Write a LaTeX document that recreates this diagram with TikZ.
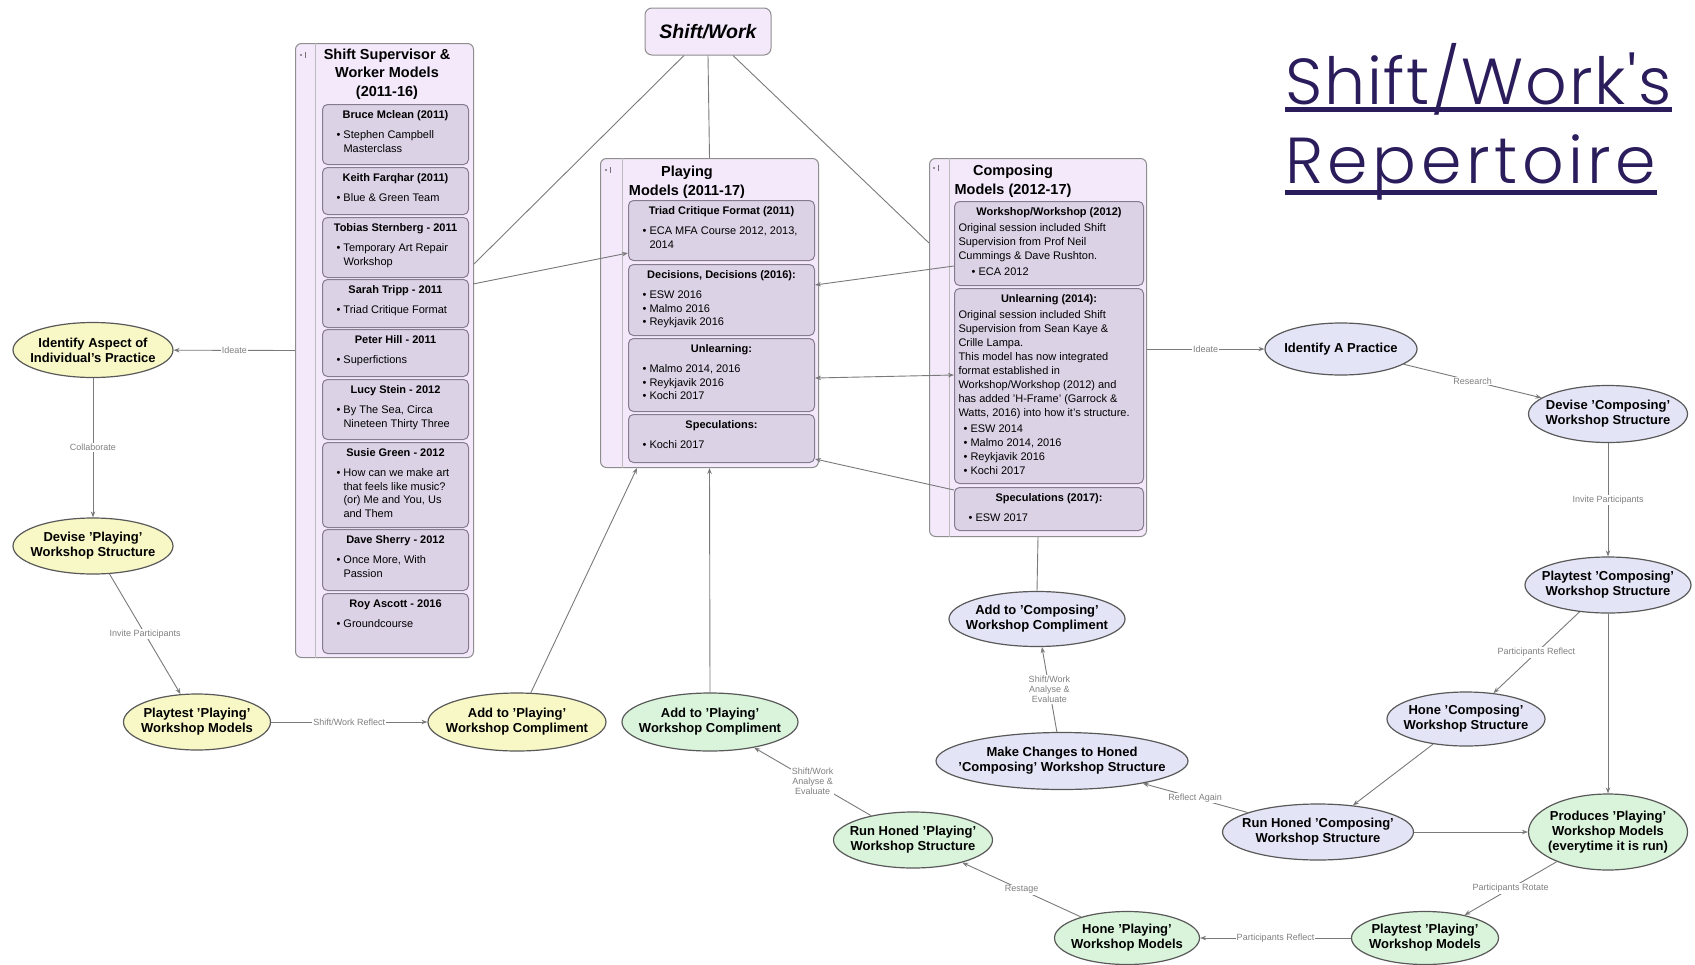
\documentclass[tikz,border=0pt]{standalone}
\usepackage{fontspec}
\setmainfont{Liberation Sans}
\IfFontExistsTF{Poppins Light}{%
\newfontfamily\ttlfonta{Poppins Light}[LetterSpace=2.7]
\newfontfamily\ttlfontb{Poppins Light}[LetterSpace=7]}{%
\newfontfamily\ttlfonta{Poppins}[LetterSpace=2.7]
\newfontfamily\ttlfontb{Poppins}[LetterSpace=7]}
\usetikzlibrary{shapes.geometric,arrows.meta,calc}
\definecolor{contfill}{HTML}{F3E9FB}
\definecolor{contdraw}{HTML}{8E8E8E}
\definecolor{boxfill}{HTML}{DCD2E6}
\definecolor{boxdraw}{HTML}{857C90}
\definecolor{yel}{HTML}{F8F7C6}
\definecolor{grn}{HTML}{DAF4DC}
\definecolor{lav}{HTML}{E4E4F7}
\definecolor{edgec}{HTML}{7A7A7A}
\definecolor{lblc}{HTML}{808080}
\definecolor{ttlc}{HTML}{2B1C5C}
\newcommand\bxt[1]{{\centering\rule{0pt}{14pt}\textbf{#1}\par}\vspace{6.5pt}}
\newcommand\cxt[1]{{\centering\rule{0pt}{14pt}\textbf{#1}\par}\vspace{1.5pt}}
\newcommand\bxi[2][10]{\par\hangindent=\dimexpr#1pt+7pt\relax\hangafter=1\noindent\hspace*{#1pt}\makebox[7pt][l]{\textbullet}#2\par}
\newcommand\ibox[6]{\node[ibx,anchor=north west,minimum width=#4,minimum height=#5] (#1) at (#2,#3) {\parbox[c][#5pt][t]{\dimexpr#4pt-8pt\relax}{\raggedright\fontsize{11}{13.5}\selectfont#6}};}
\begin{document}
\begin{tikzpicture}[x=1pt,y=-1pt,
  cont/.style={draw=contdraw,fill=contfill,line width=1pt,rounded corners=6pt,inner sep=0pt,anchor=north west},
  stripe/.style={draw=contdraw!60,line width=0.8pt},
  ibx/.style={draw=boxdraw,fill=boxfill,line width=1pt,rounded corners=5pt,inner xsep=4pt,inner ysep=0pt},
  ctitle/.style={font=\bfseries\fontsize{14.5}{18.5}\selectfont,align=center,inner sep=0pt},
  ell/.style={ellipse,draw=black!65,line width=1.2pt,inner xsep=-45pt,inner ysep=-6pt,align=center,font=\bfseries\fontsize{13}{15}\selectfont},
  ey/.style={ell,fill=yel},
  eg/.style={ell,fill=grn},
  el/.style={ell,fill=lav},
  ed/.style={draw=edgec,line width=0.9pt},
  ar/.style={ed,-{Stealth[length=6pt,width=4.5pt]}},
  lbl/.style={font=\fontsize{9}{10}\selectfont,text=lblc,fill=white,inner sep=1pt,align=center},
  icon/.style={draw=black!55,line width=0.6pt}
]
\fill[white] (0,0) rectangle (1695,964);
\useasboundingbox (0,0) rectangle (1695,964);

% top node
\node[draw=contdraw,fill=contfill,line width=1pt,rounded corners=7pt,minimum width=126,minimum height=47,inner sep=0pt,font=\bfseries\itshape\fontsize{19.5}{22}\selectfont] (sw) at (708,31.5) {Shift/Work};

% containers
\node[cont,minimum width=178,minimum height=614] (ssm) at (295,43) {};
\node[cont,minimum width=218,minimum height=309] (pm) at (600,158) {};
\node[cont,minimum width=217,minimum height=378] (cm) at (929,158) {};
\draw[stripe] ([xshift=20pt]ssm.north west) -- ([xshift=20pt]ssm.south west);
\draw[stripe] ([xshift=22pt]pm.north west) -- ([xshift=22pt]pm.south west);
\draw[stripe] ([xshift=20pt]cm.north west) -- ([xshift=20pt]cm.south west);
\fill[black!55] (301,55) circle (1.1pt); \draw[icon] (305.5,52) -- (305.5,58);
\fill[black!55] (606,170) circle (1.1pt); \draw[icon] (610.5,167) -- (610.5,173);
\fill[black!55] (934,168) circle (1.1pt); \draw[icon] (938.5,165) -- (938.5,171);
\node[ctitle] (ssmt) at (387,74) {Shift Supervisor \&\\Worker Models\\(2011-16)};
\node[ctitle] (pmt) at (687,182) {Playing\\Models (2011-17)};
\node[ctitle] (cmt) at (1013,181) {Composing\\Models (2012-17)};

% Shift Supervisor boxes
\ibox{bm}{322}{104}{146}{60}{\bxt{Bruce Mclean (2011)}\bxi{Stephen Campbell\newline Masterclass}}
\ibox{kf}{322}{167}{146}{47}{\bxt{Keith Farqhar (2011)}\bxi{Blue \& Green Team}}
\ibox{ts}{322}{217}{146}{60}{\bxt{Tobias Sternberg - 2011}\bxi{Temporary Art Repair\newline Workshop}}
\ibox{st}{322}{279}{146}{48}{\bxt{Sarah Tripp - 2011}\bxi{Triad Critique Format}}
\ibox{ph}{322}{329}{146}{47}{\bxt{Peter Hill - 2011}\bxi{Superfictions}}
\ibox{ls}{322}{379}{146}{60}{\bxt{Lucy Stein - 2012}\bxi{By The Sea, Circa\newline Nineteen Thirty Three}}
\ibox{sg}{322}{442}{146}{85}{\bxt{Susie Green - 2012}\bxi{How can we make art\newline that feels like music?\newline (or) Me and You, Us\newline and Them}}
\ibox{ds}{322}{529}{146}{61}{\bxt{Dave Sherry - 2012}\bxi{Once More, With\newline Passion}}
\ibox{ra}{322}{593}{146}{60}{\bxt{Roy Ascott - 2016}\bxi{Groundcourse}}

% Playing boxes
\ibox{tc}{628}{200}{186}{60}{\bxt{Triad Critique Format (2011)}\bxi{ECA MFA Course 2012, 2013,\newline 2014}}
\ibox{dd}{628}{264}{186}{71}{\bxt{Decisions, Decisions (2016):}\bxi{ESW 2016}\bxi{Malmo 2016}\bxi{Reykjavik 2016}}
\ibox{pu}{628}{338}{186}{73}{\bxt{Unlearning:}\bxi{Malmo 2014, 2016}\bxi{Reykjavik 2016}\bxi{Kochi 2017}}
\ibox{ps}{628}{414}{186}{48}{\bxt{Speculations:}\bxi{Kochi 2017}}

% Composing boxes
\ibox{ww}{954}{201}{189}{84}{\fontsize{11}{14}\selectfont\cxt{Workshop/Workshop (2012)}\noindent Original session included Shift\newline Supervision from Prof Neil\newline Cummings \& Dave Rushton.\par\vspace{2.5pt}\bxi[13]{ECA 2012}}
\ibox{cu}{954}{288}{189}{195}{\fontsize{11}{14}\selectfont\cxt{Unlearning (2014):}\noindent Original session included Shift\newline Supervision from Sean Kaye \&\newline Crille Lampa.\newline This model has now integrated\newline format established in\newline Workshop/Workshop (2012) and\newline has added 'H-Frame' (Garrock \&\newline Watts, 2016) into how it's structure.\par\vspace{2pt}\bxi[5]{ESW 2014}\bxi[5]{Malmo 2014, 2016}\bxi[5]{Reykjavik 2016}\bxi[5]{Kochi 2017}}
\ibox{cs}{954}{487}{189}{43}{\bxt{Speculations (2017):}\bxi[10]{ESW 2017}}

% ellipses
\node[ey,minimum width=160,minimum height=55] (ia) at (93,350) {Identify Aspect of\\Individual's Practice};
\node[ey,minimum width=160,minimum height=56] (dp) at (93,546) {Devise 'Playing'\\Workshop Structure};
\node[ey,minimum width=147,minimum height=56] (ptp) at (197,722) {Playtest 'Playing'\\Workshop Models};
\node[ey,minimum width=178,minimum height=58] (apy) at (517,722) {Add to 'Playing'\\Workshop Compliment};
\node[eg,minimum width=176,minimum height=58] (apg) at (710,722) {Add to 'Playing'\\Workshop Compliment};
\node[eg,minimum width=159,minimum height=56] (rhp) at (913,840) {Run Honed 'Playing'\\Workshop Structure};
\node[eg,minimum width=145,minimum height=53] (hp) at (1127,938) {Hone 'Playing'\\Workshop Models};
\node[eg,minimum width=147,minimum height=53] (ptpg) at (1425,938) {Playtest 'Playing'\\Workshop Models};
\node[eg,minimum width=159,minimum height=76] (pr) at (1608,832) {Produces 'Playing'\\Workshop Models\\(everytime it is run)};
\node[el,minimum width=152,minimum height=52] (ip) at (1341,349) {Identify A Practice};
\node[el,minimum width=159,minimum height=57] (dc) at (1608,414) {Devise 'Composing'\\Workshop Structure};
\node[el,minimum width=166,minimum height=56] (ptc) at (1608,585) {Playtest 'Composing'\\Workshop Structure};
\node[el,minimum width=158,minimum height=54] (hc) at (1466,719) {Hone 'Composing'\\Workshop Structure};
\node[el,minimum width=191,minimum height=56] (rhc) at (1318,832) {Run Honed 'Composing'\\Workshop Structure};
\node[el,minimum width=252,minimum height=57] (mc) at (1062,761) {Make Changes to Honed\\'Composing' Workshop Structure};
\node[el,minimum width=176,minimum height=55] (ac) at (1037,619) {Add to 'Composing'\\Workshop Compliment};

% title
\node[font=\ttlfonta\fontsize{65}{65}\selectfont,text=ttlc,anchor=base west,inner sep=0pt] (ttl1) at (1285,104) {Shift/Work's};
\node[font=\ttlfontb\fontsize{65}{65}\selectfont,text=ttlc,anchor=base west,inner sep=0pt] (ttl2) at (1285,183) {Repertoire};
\draw[ttlc,line width=5pt] ([yshift=-5pt]ttl1.base west) -- ([yshift=-5pt]ttl1.base east);
\draw[ttlc,line width=5pt] ([yshift=-9pt]ttl2.base west) -- ([yshift=-9pt]ttl2.base east);

% connectors
\draw[ed] (sw) -- ([yshift=-221pt]ssm.north east);
\draw[ed] (sw.south) -- (pm.north);
\draw[ed] (sw) -- ([yshift=-85pt]cm.north west);
\draw[ar] ([xshift=4pt,yshift=-5pt]st.north east) -- ([yshift=8pt]tc.south west);
\draw[ar] ([yshift=20pt]ww.south west) -- ([yshift=-21pt]dd.north east);
\draw[ed,{Stealth[length=6pt,width=4.5pt]}-{Stealth[length=6pt,width=4.5pt]}] ([yshift=-40pt]pu.north east) -- ([yshift=-87pt]cu.north west);
\draw[ar] ([yshift=-3pt]cs.north west) -- ([yshift=4pt]ps.south east);
\draw[ar] (ssm.west) -- node[lbl]{Ideate} (ia);
\draw[ar] (ia) -- node[lbl]{Collaborate} (dp);
\draw[ar] (dp) -- node[lbl]{Invite Participants} (ptp);
\draw[ar] (ptp) -- node[lbl]{Shift/Work Reflect} (apy);
\draw[ar] (apy) -- ([xshift=37pt]pm.south west);
\draw[ar] (apg.north) -- (pm.south);
\draw[ed] (cm.south) -- (ac.north);
\draw[ar] (mc) -- node[lbl]{Shift/Work\\Analyse \&\\Evaluate} (ac);
\draw[ar] (rhc) -- node[lbl]{Reflect Again} (mc);
\draw[ar] (cm.east |- ip) -- node[lbl]{Ideate} (ip);
\draw[ar] (ip) -- node[lbl]{Research} (dc);
\draw[ar] (dc) -- node[lbl]{Invite Participants} (ptc);
\draw[ar] (ptc) -- node[lbl]{Participants Reflect} (hc);
\draw[ar] (ptc) -- (pr);
\draw[ar] (hc) -- (rhc);
\draw[ar] (rhc) -- (pr);
\draw[ar] (pr) -- node[lbl]{Participants Rotate} (ptpg);
\draw[ar] (ptpg) -- node[lbl]{Participants Reflect} (hp);
\draw[ar] (hp) -- node[lbl]{Restage} (rhp);
\draw[ar] (rhp) -- node[lbl]{Shift/Work\\Analyse \&\\Evaluate} (apg);
\end{tikzpicture}
\end{document}
